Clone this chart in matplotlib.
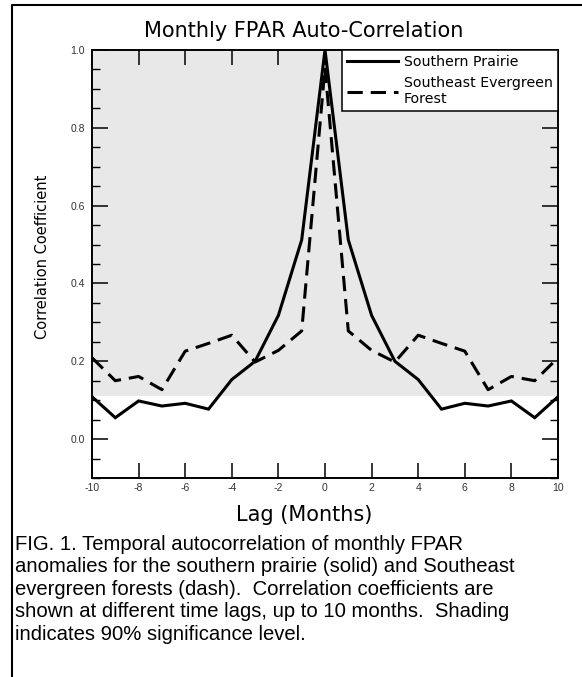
import numpy as np
import matplotlib
matplotlib.use('Agg')
import matplotlib.pyplot as plt
from matplotlib.lines import Line2D
from matplotlib.ticker import MultipleLocator

plt.rcParams['axes.unicode_minus'] = False

# lag in months
lags = [-10, -9, -8, -7, -6, -5, -4, -3, -2, -1, 0, 1, 2, 3, 4, 5, 6, 7, 8, 9, 10]
# southern prairie (solid)
prairie = [0.109, 0.055, 0.098, 0.085, 0.092, 0.077, 0.153, 0.200, 0.318, 0.512, 1.0,
           0.512, 0.318, 0.200, 0.153, 0.077, 0.092, 0.085, 0.098, 0.055, 0.109]
# southeast evergreen forest (dash)
forest = [0.209, 0.150, 0.161, 0.127, 0.226, 0.246, 0.267, 0.198, 0.228, 0.278, 0.955,
          0.278, 0.228, 0.198, 0.267, 0.246, 0.226, 0.127, 0.161, 0.150, 0.209]
sig_level = 0.11

caption = ("FIG. 1. Temporal autocorrelation of monthly FPAR\n"
           "anomalies for the southern prairie (solid) and Southeast\n"
           "evergreen forests (dash).  Correlation coefficients are\n"
           "shown at different time lags, up to 10 months.  Shading\n"
           "indicates 90% significance level.")

fig = plt.figure(figsize=(5.82, 6.77), dpi=100)
ax = fig.add_axes([92/582, 1-478/677, 466/582, 428/677])

ax.axhspan(sig_level, 1.0, color='#e8e8e8', lw=0, zorder=0)
l0, = ax.plot(lags, prairie, color='black', lw=2.2, solid_joinstyle='miter')
l1, = ax.plot(lags, forest, color='black', lw=2.2, dashes=(5, 2.6))

ax.set_xlim(-10, 10)
ax.set_ylim(-0.1, 1.0)
ax.xaxis.set_major_locator(MultipleLocator(2))
ax.yaxis.set_major_locator(MultipleLocator(0.2))
ax.yaxis.set_minor_locator(MultipleLocator(0.05))
ax.yaxis.set_major_formatter(matplotlib.ticker.FormatStrFormatter('%.1f'))
ax.tick_params(axis='x', which='major', direction='in', length=10.5, width=1.1,
               top=True, labelsize=7.5, labelcolor='#333333', pad=3.5)
ax.tick_params(axis='y', which='major', direction='in', length=11.5, width=1.1,
               right=True, labelsize=7.5, labelcolor='#333333', pad=5)
ax.tick_params(axis='y', which='minor', direction='in', length=5.8, width=1.0, right=True)
for lab in ax.get_xticklabels() + ax.get_yticklabels():
    lab.set_family('Liberation Sans')
for s in ax.spines.values():
    s.set_linewidth(1.4)

leg = ax.legend(handles=[l0, l1], labels=['Southern Prairie', 'Southeast Evergreen\nForest'],
                loc='upper right', borderaxespad=0, fancybox=False, framealpha=1,
                edgecolor='black', fontsize=10.2, handlelength=3.6, handletextpad=0.45,
                borderpad=0.35, labelspacing=0.5)
leg.get_frame().set_linewidth(1.1)

fig.text(304/582, 1-31/677, 'Monthly FPAR Auto-Correlation', ha='center', va='center',
         fontsize=15, family='DejaVu Sans')
fig.text(304/582, 1-515/677, 'Lag (Months)', ha='center', va='center', fontsize=15)
fig.text(43/582, 1-257/677, 'Correlation Coefficient', ha='center', va='center',
         rotation=90, fontsize=10.5)
fig.text(15/582, 1-535/677, caption, ha='left', va='top', fontsize=14.6,
         family='Liberation Sans', linespacing=1.23)

# outer frame (left and top edges visible)
fig.add_artist(Line2D([12/582, 12/582, 1.0], [0, 1-5/677, 1-5/677],
                      transform=fig.transFigure, color='black', lw=1.5))

fig.savefig('out.png', dpi=100)
